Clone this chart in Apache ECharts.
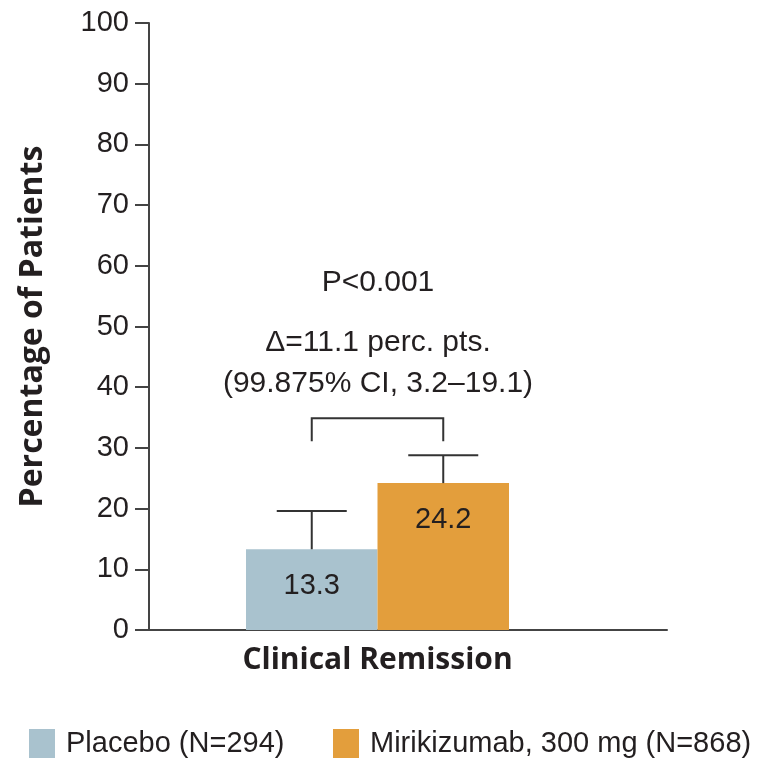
<!DOCTYPE html>
<html>
<head>
<meta charset="utf-8">
<script src="https://cdn.jsdelivr.net/npm/echarts@6/dist/echarts.min.js"></script>
<style>
html,body{margin:0;padding:0;background:#fff;}
#chart{width:773px;height:765px;}
</style>
</head>
<body>
<div id="chart"></div>
<script>
var categories = ['Clinical Remission'];
var seriesNames = ['Placebo (N=294)', 'Mirikizumab, 300 mg (N=868)'];
var placeboValues = [13.3];
var mirikizumabValues = [24.2];
var ciUpper = [19.6, 28.8];
var bracketLevels = [31.1, 34.9];
var yTicks = [0, 10, 20, 30, 40, 50, 60, 70, 80, 90, 100];
var annotations = ['P<0.001', '\u0394=11.1 perc. pts.', '(99.875% CI, 3.2\u201319.1)'];

var colors = ['#a9c2ce', '#e39e3c'];
var ink = '#231f20';
var narrow = '"Liberation Sans Narrow", "Liberation Sans", sans-serif';
var boldFont = '"Open Sans", "Noto Sans", sans-serif';

var chart = echarts.init(document.getElementById('chart'), null, {renderer: 'canvas'});

function errorRender(params, api) {
  var side = api.value(0) === 0 ? -1 : 1;
  var band = api.size([1, 0])[0];
  var top = api.coord([0, api.value(2)]);
  var base = api.coord([0, api.value(1)]);
  var x = top[0] + side * band / 4;
  var half = 35;
  return {
    type: 'group',
    children: [
      {type: 'line', shape: {x1: x, y1: base[1], x2: x, y2: top[1]}, style: {stroke: '#333', lineWidth: 2}},
      {type: 'line', shape: {x1: x - half, y1: top[1], x2: x + half, y2: top[1]}, style: {stroke: '#333', lineWidth: 2}}
    ]
  };
}

function bracketRender(params, api) {
  var band = api.size([1, 0])[0];
  var low = api.coord([0, api.value(0)]);
  var high = api.coord([0, api.value(1)]);
  var xl = low[0] - band / 4, xr = low[0] + band / 4;
  return {
    type: 'polyline',
    shape: {points: [[xl, low[1]], [xl, high[1]], [xr, high[1]], [xr, low[1]]]},
    style: {stroke: '#333', lineWidth: 2, fill: null}
  };
}

function annot(i, y) {
  return {type: 'text', x: 378, y: y, style: {text: annotations[i], font: '30px ' + narrow, fill: ink, textAlign: 'center', textVerticalAlign: 'middle'}};
}

function legendFor(i, left) {
  return {
    left: left, top: 729, padding: 0, itemWidth: 26, itemHeight: 29, icon: 'rect',
    textStyle: {fontFamily: narrow, fontSize: 29, color: ink, padding: [0, 0, 0, 6]},
    data: [seriesNames[i]]
  };
}

var option = {
  backgroundColor: '#fff',
  animation: false,
  grid: [
    {left: 149, right: 106, top: 23, bottom: 135},
    {left: 246, right: 264, top: 23, bottom: 135}
  ],
  xAxis: [
    {type: 'category', gridIndex: 0, data: [''], axisLine: {lineStyle: {color: '#444', width: 2}}, axisTick: {show: false}, axisLabel: {show: false}},
    {type: 'category', gridIndex: 1, data: categories, axisLine: {show: false}, axisTick: {show: false},
      axisLabel: {fontFamily: boldFont, fontWeight: 'bold', fontSize: 30, color: ink, margin: 15}}
  ],
  yAxis: [
    {type: 'value', gridIndex: 0, min: yTicks[0], max: yTicks[yTicks.length - 1], interval: 10,
      axisLine: {show: true, lineStyle: {color: '#444', width: 2}},
      axisTick: {show: true, length: 14, lineStyle: {color: '#444', width: 2}},
      splitLine: {show: false},
      axisLabel: {fontFamily: narrow, fontSize: 29, color: ink, margin: 20},
      name: 'Percentage of Patients', nameLocation: 'middle', nameGap: 100,
      nameTextStyle: {fontFamily: boldFont, fontWeight: 'bold', fontSize: 32, color: ink}},
    {type: 'value', gridIndex: 1, min: 0, max: 100, show: false}
  ],
  legend: [legendFor(0, 29), legendFor(1, 333)],
  series: [
    {name: seriesNames[0], type: 'bar', xAxisIndex: 1, yAxisIndex: 1, data: placeboValues,
      barGap: '0%', barCategoryGap: '0%', itemStyle: {color: colors[0]},
      label: {show: true, position: 'insideTop', distance: 22, fontFamily: narrow, fontSize: 29, color: ink, formatter: function (p) { return p.value.toFixed(1); }}},
    {name: seriesNames[1], type: 'bar', xAxisIndex: 1, yAxisIndex: 1, data: mirikizumabValues,
      barGap: '0%', barCategoryGap: '0%', itemStyle: {color: colors[1]},
      label: {show: true, position: 'insideTop', distance: 22, fontFamily: narrow, fontSize: 29, color: ink, formatter: function (p) { return p.value.toFixed(1); }}},
    {type: 'custom', xAxisIndex: 1, yAxisIndex: 1, renderItem: errorRender, silent: true, z: 5,
      data: [[0, placeboValues[0], ciUpper[0]], [1, mirikizumabValues[0], ciUpper[1]]]},
    {type: 'custom', xAxisIndex: 1, yAxisIndex: 1, renderItem: bracketRender, silent: true, z: 5,
      data: [[bracketLevels[0], bracketLevels[1]]]}
  ],
  graphic: [annot(0, 283), annot(1, 343), annot(2, 384)]
};
chart.setOption(option);
</script>
</body>
</html>
